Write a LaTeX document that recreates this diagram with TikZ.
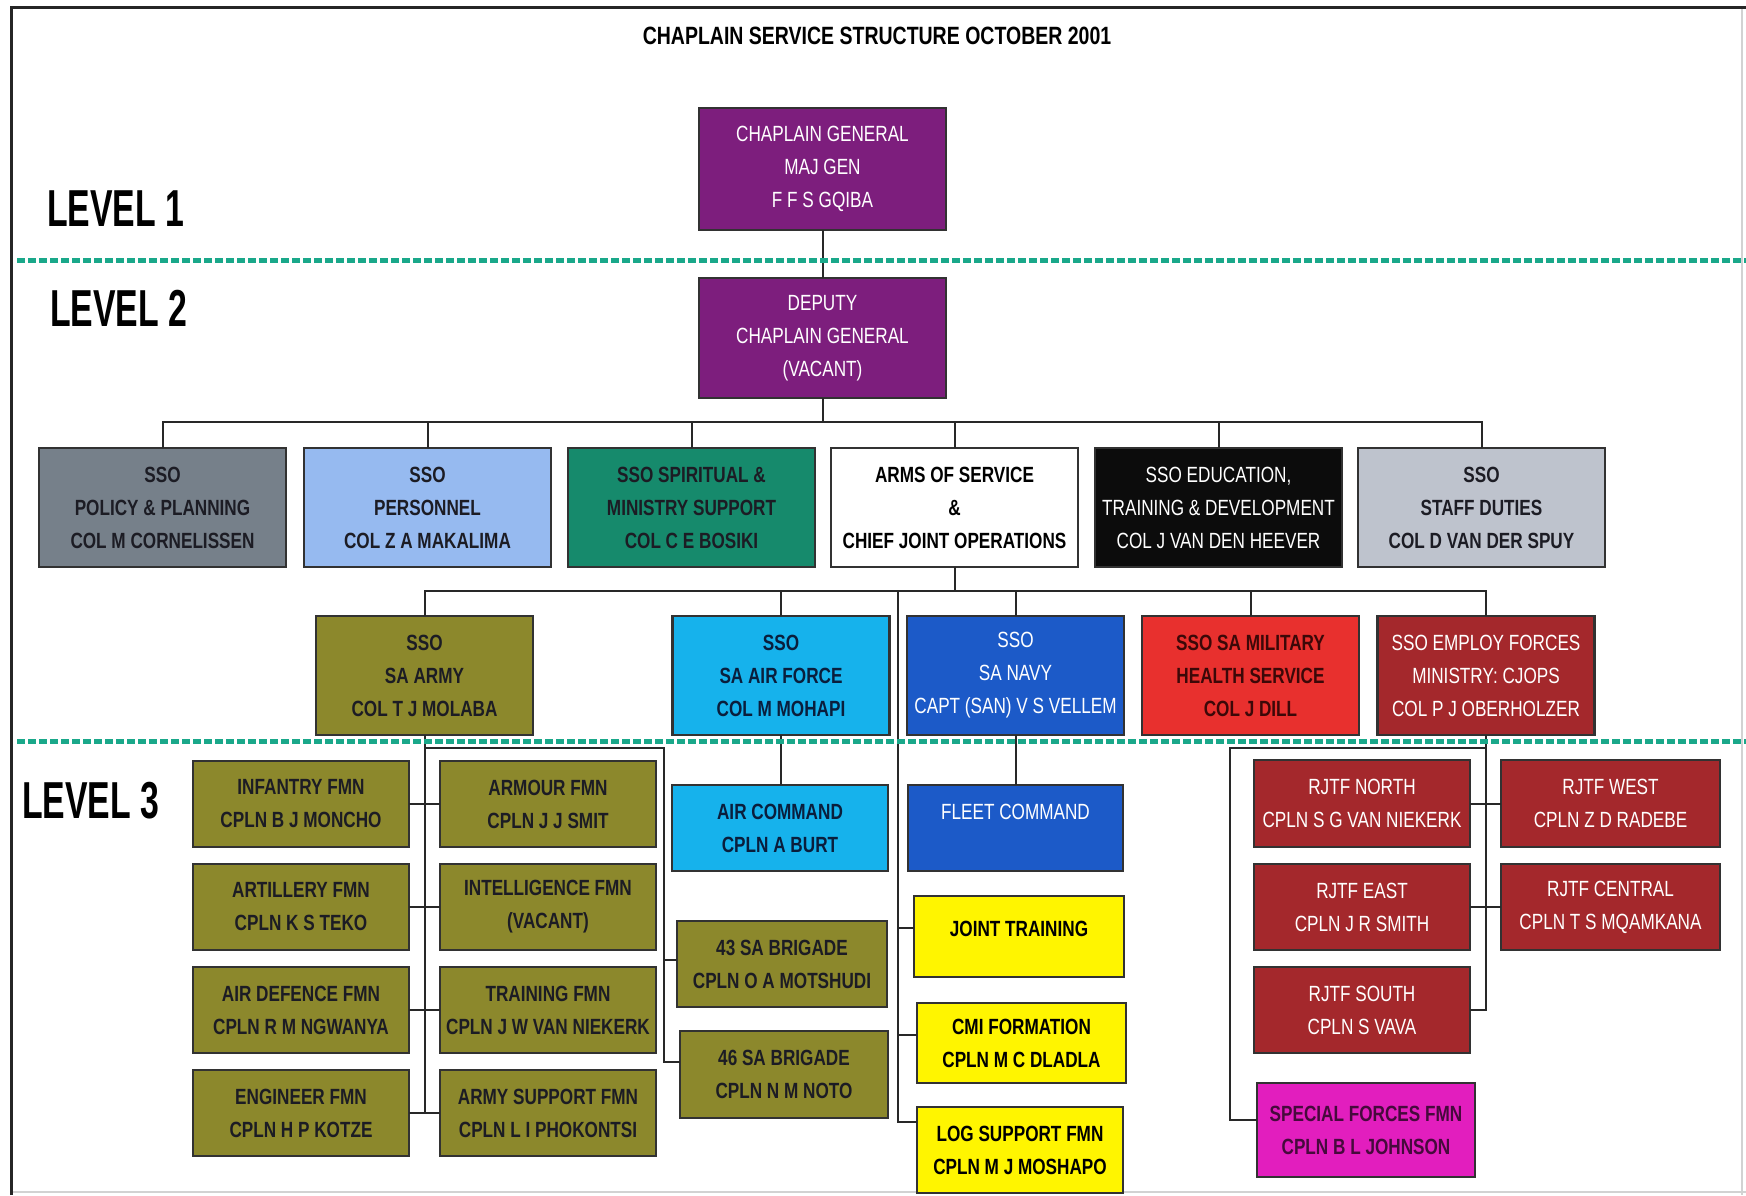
\documentclass[tikz,border=0pt]{standalone}
\usepackage{fontspec}
\setmainfont{Liberation Sans}
\newfontfamily\narrowfont[FakeStretch=0.78]{Liberation Sans}
\newfontfamily\lvlfont[FakeStretch=0.65]{Liberation Sans}
\newcommand\bxfont{\narrowfont\fontsize{22}{33}\selectfont}
\definecolor{cgpurple}{RGB}{125,30,125}
\definecolor{polgray}{RGB}{118,128,138}
\definecolor{perblue}{RGB}{150,186,240}
\definecolor{spiteal}{RGB}{22,138,108}
\definecolor{edublack}{RGB}{12,12,12}
\definecolor{stfgray}{RGB}{190,195,205}
\definecolor{armyolive}{RGB}{140,136,44}
\definecolor{afblue}{RGB}{22,178,236}
\definecolor{navyblue}{RGB}{28,90,200}
\definecolor{hlthred}{RGB}{232,48,46}
\definecolor{jopred}{RGB}{164,40,44}
\definecolor{jyellow}{RGB}{255,245,0}
\definecolor{sfmag}{RGB}{226,30,190}
\definecolor{lvlteal}{RGB}{26,168,138}
\definecolor{darktxt}{RGB}{28,28,36}
\definecolor{aftxt}{RGB}{10,30,60}
\definecolor{hlthtxt}{RGB}{60,8,8}
\definecolor{sftxt}{RGB}{70,10,60}
\definecolor{boxline}{RGB}{50,50,50}
\definecolor{connline}{RGB}{40,40,40}
\begin{document}
\begin{tikzpicture}[x=1pt,y=-1pt,
  box/.style={draw=boxline,line width=2.5pt,inner sep=0pt,outer sep=0pt,align=center},
  dk/.style={box,font=\bxfont\bfseries,text=darktxt},
  wt/.style={box,font=\bxfont,text=white},
  conn/.style={draw=connline,line width=2pt},
  lvl/.style={dash pattern=on 8pt off 3pt,line width=5pt,draw=lvlteal},
  lvltxt/.style={font=\lvlfont\bfseries\fontsize{52}{52}\selectfont,text=black,inner sep=0pt,anchor=west},
  sztop/.style={minimum width=247pt,minimum height=120pt},
  sztwo/.style={minimum width=247pt,minimum height=119pt},
  szthree/.style={minimum width=217pt,minimum height=119pt},
  szfour/.style={minimum width=216pt,minimum height=86pt}
]
\fill[white] (0,0) rectangle (1746,1195);
\useasboundingbox (0,0) rectangle (1746,1195);

% frame
\draw[gray!35,line width=1.5pt] (1742,7.5) -- (1742,1195);
\draw[gray!35,line width=1.5pt] (11.5,1192) -- (1746,1192);
\draw[black!85,line width=3.5pt] (11.5,1195) -- (11.5,7.5) -- (1746,7.5);

% title and levels
\node[font=\narrowfont\bfseries\fontsize{25}{25}\selectfont,inner sep=0pt] (title) at (877,36) {CHAPLAIN SERVICE STRUCTURE OCTOBER 2001};
\node[lvltxt] (lvla) at (47,208.5) {LEVEL 1};
\node[lvltxt] (lvlb) at (50,308.5) {LEVEL 2};
\node[lvltxt] (lvlc) at (22,801) {LEVEL 3};

% level 1 and 2 heads
\node[wt,fill=cgpurple,sztop,minimum height=122pt] (cg) at (822.5,169) {CHAPLAIN GENERAL\\MAJ GEN\\F F S GQIBA};
\node[wt,fill=cgpurple,sztop] (dcg) at (822.5,338) {DEPUTY\\CHAPLAIN GENERAL\\(VACANT)};

% row 2
\node[dk,fill=polgray,sztwo] (pol) at (162.5,507.5) {SSO\\POLICY \& PLANNING\\COL M CORNELISSEN};
\node[dk,fill=perblue,sztwo] (per) at (427.5,507.5) {SSO\\PERSONNEL\\COL Z A MAKALIMA};
\node[dk,fill=spiteal,sztwo] (spi) at (691.5,507.5) {SSO SPIRITUAL \&\\MINISTRY SUPPORT\\COL C E BOSIKI};
\node[dk,fill=white,text=black,sztwo] (arms) at (954.5,507.5) {ARMS OF SERVICE\\\&\\CHIEF JOINT OPERATIONS};
\node[wt,fill=edublack,sztwo] (edu) at (1218.5,507.5) {SSO EDUCATION,\\TRAINING \& DEVELOPMENT\\COL J VAN DEN HEEVER};
\node[dk,fill=stfgray,sztwo] (stf) at (1481.5,507.5) {SSO\\STAFF DUTIES\\COL D VAN DER SPUY};

% row 3
\node[dk,fill=armyolive,szthree] (army) at (424.5,675.5) {SSO\\SA ARMY\\COL T J MOLABA};
\node[dk,fill=afblue,text=aftxt,szthree] (af) at (781,675.5) {SSO\\SA AIR FORCE\\COL M MOHAPI};
\node[wt,fill=navyblue,szthree] (navy) at (1015.5,675.5) {SSO\\SA NAVY\\CAPT (SAN) V S VELLEM};
\node[dk,fill=hlthred,text=hlthtxt,szthree] (hlth) at (1250.5,675.5) {SSO SA MILITARY\\HEALTH SERVICE\\COL J DILL};
\node[wt,fill=jopred,szthree] (emp) at (1486,675.5) {SSO EMPLOY FORCES\\MINISTRY: CJOPS\\COL P J OBERHOLZER};

% army formations
\node[dk,fill=armyolive,szfour] (inf) at (301,804) {INFANTRY FMN\\CPLN B J MONCHO};
\node[dk,fill=armyolive,szfour] (art) at (301,907) {ARTILLERY FMN\\CPLN K S TEKO};
\node[dk,fill=armyolive,szfour] (adf) at (301,1010) {AIR DEFENCE FMN\\CPLN R M NGWANYA};
\node[dk,fill=armyolive,szfour] (eng) at (301,1113) {ENGINEER FMN\\CPLN H P KOTZE};
\node[dk,fill=armyolive,szfour] (armr) at (548,804) {ARMOUR FMN\\CPLN J J SMIT};
\node[dk,fill=armyolive,szfour] (intl) at (548,907) {INTELLIGENCE FMN\\(VACANT)};
\node[dk,fill=armyolive,szfour] (trn) at (548,1010) {TRAINING FMN\\CPLN J W VAN NIEKERK};
\node[dk,fill=armyolive,szfour] (asup) at (548,1113) {ARMY SUPPORT FMN\\CPLN L I PHOKONTSI};
\node[dk,fill=armyolive,minimum width=210pt,minimum height=86pt] (bra) at (782,964) {43 SA BRIGADE\\CPLN O A MOTSHUDI};
\node[dk,fill=armyolive,minimum width=208pt,minimum height=87pt] (brb) at (784,1074.5) {46 SA BRIGADE\\CPLN N M NOTO};

% air force and navy
\node[dk,fill=afblue,text=aftxt,szfour] (aircmd) at (780,828) {AIR COMMAND\\CPLN A BURT};
\node[wt,fill=navyblue,minimum width=215pt,minimum height=86pt] (fleet) at (1015.5,828) {FLEET COMMAND\\\mbox{}};

% joint operations (yellow)
\node[dk,fill=jyellow,text=black,minimum width=210pt,minimum height=81pt] (joint) at (1019,936.5) {JOINT TRAINING\\[-18pt]\mbox{}};
\node[dk,fill=jyellow,text=black,minimum width=209pt,minimum height=80pt] (cmi) at (1021.5,1043) {CMI FORMATION\\CPLN M C DLADLA};
\node[dk,fill=jyellow,text=black,minimum width=206pt,minimum height=86pt] (logs) at (1020,1150) {LOG SUPPORT FMN\\CPLN M J MOSHAPO};

% RJTF
\node[wt,fill=jopred,minimum width=216pt,minimum height=87pt] (rn) at (1362,803.5) {RJTF NORTH\\CPLN S G VAN NIEKERK};
\node[wt,fill=jopred,minimum width=219pt,minimum height=87pt] (rw) at (1610.5,803.5) {RJTF WEST\\CPLN Z D RADEBE};
\node[wt,fill=jopred,minimum width=216pt,minimum height=86pt] (re) at (1362,907) {RJTF EAST\\CPLN J R SMITH};
\node[wt,fill=jopred,minimum width=219pt,minimum height=86pt] (rc) at (1610.5,907) {RJTF CENTRAL\\CPLN T S MQAMKANA};
\node[wt,fill=jopred,minimum width=216pt,minimum height=86pt] (rs) at (1362,1010) {RJTF SOUTH\\CPLN S VAVA};
\node[dk,fill=sfmag,text=sftxt,minimum width=218pt,minimum height=94pt] (sf) at (1366,1130) {SPECIAL FORCES FMN\\CPLN B L JOHNSON};

% connectors level 1-2
\coordinate (bustwo) at (822.5,422);
\draw[conn] (cg.south) -- (dcg.north);
\draw[conn] (dcg.south) -- (bustwo);
\foreach \n in {pol,per,spi,arms,edu,stf} \draw[conn] (bustwo) -| (\n.north);

% connectors row 3
\coordinate (busthree) at (954.5,591);
\draw[conn] (arms.south) -- (busthree);
\foreach \n in {army,af,navy,hlth,emp} \draw[conn] (busthree) -| (\n.north);
\coordinate (jtop) at (898,591);
\draw[conn] (jtop) |- ([yshift=8.5pt]joint.west);
\draw[conn] (jtop) |- ([yshift=8pt]cmi.west);
\draw[conn] (jtop) |- ([yshift=28pt]logs.west);

% army
\draw[conn] (army.south) -- (army.south |- asup.west);
\draw[conn] (inf.east) -- (armr.west);
\draw[conn] (art.east) -- (intl.west);
\draw[conn] (adf.east) -- (trn.west);
\draw[conn] (eng.east) -- (asup.west);
\coordinate (abr) at (424.5,748);
\coordinate (btop) at (664,748);
\draw[conn] (abr) -- (btop) |- ([yshift=12.5pt]brb.west);
\draw[conn] (btop) |- ([yshift=4pt]bra.west);

% air force, navy
\draw[conn] (af.south) -- (af.south |- aircmd.north);
\draw[conn] (navy.south) -- (navy.south |- fleet.north);

% employ forces
\draw[conn] (emp.south) |- (rs.east);
\draw[conn] (rn.east) -- (rw.west);
\draw[conn] (re.east) -- (rc.west);
\coordinate (etop) at (1486,748);
\coordinate (eleft) at (1230,748);
\draw[conn] (etop) -- (eleft) |- ([yshift=10pt]sf.west);

% level separators
\draw[lvl] (17,260) -- (1746,260);
\draw[lvl] (17,741) -- (1746,741);
\end{tikzpicture}
\end{document}
